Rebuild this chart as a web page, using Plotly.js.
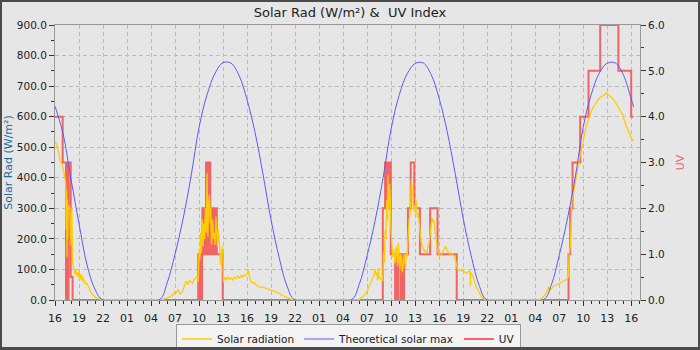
<!DOCTYPE html>
<html>
<head>
<meta charset="utf-8">
<script src="https://cdn.plot.ly/plotly-3.0.1.min.js"></script>
<style>
  html, body { margin: 0; padding: 0; width: 700px; height: 350px; overflow: hidden; background: #4b4b4b; }
  #chart { position: absolute; left: 2px; top: 2px; width: 696px; height: 370px; }
  #frame {
    position: absolute; left: 0; top: 0; width: 700px; height: 350px; box-sizing: border-box;
    border: 2px solid #4b4b4b; border-bottom-width: 3px; pointer-events: none; z-index: 10;
  }
</style>
</head>
<body>
<div id="chart"></div>
<div id="frame"></div>
<script>
// Hours are counted from the start of the window (16:00 on the first day).
const START = Date.UTC(2024, 5, 20, 16, 0, 0);

// Measured global solar radiation, W/m²
const radHours = [
  0.0, 0.1, 0.2, 0.35, 0.5, 0.65, 0.8, 0.95, 1.1, 1.25, 1.35, 1.4, 1.45, 1.5, 1.55, 1.6, 1.65, 1.75, 1.85, 1.9,
  1.95, 2.0, 2.1, 2.2, 2.3, 2.4, 2.5, 2.6, 2.7, 2.8, 2.9, 3.0, 3.1, 3.2, 3.3, 3.4, 3.5, 3.6, 3.7, 3.8,
  3.9, 4.0, 4.2, 4.4, 4.6, 4.8, 5.0, 5.3, 5.6, 6.0,
  13.4, 13.6, 14.0, 14.4, 14.7, 15.0, 15.2, 15.4, 15.6, 15.8, 16.0, 16.25, 16.4, 16.6, 16.8, 17.0, 17.2, 17.4, 17.6, 17.8,
  17.9, 18.0, 18.1, 18.2, 18.3, 18.4, 18.5, 18.6, 18.7, 18.8, 18.9, 19.0, 19.1, 19.2, 19.3, 19.4, 19.45, 19.55, 19.6, 19.7,
  19.8, 19.9, 20.0, 20.1, 20.2, 20.3, 20.4, 20.5, 20.6, 20.7, 20.8, 20.9, 21.0, 21.05, 21.2, 21.4, 21.6, 21.8, 22.0, 22.2,
  22.4, 22.6, 22.8, 23.0, 23.2, 23.4, 23.6, 23.8, 24.0, 24.15, 24.3, 24.5, 24.7, 24.9, 25.1, 25.4, 25.7, 26.0, 26.3, 26.7,
  27.0, 27.4, 27.8, 28.2, 28.6, 29.0, 29.4, 29.8,
  37.9, 38.2, 38.5, 38.9, 39.1, 39.4, 39.6, 39.8, 40.0, 40.1, 40.2, 40.3, 40.4, 40.5, 40.6, 40.8, 40.95, 41.05, 41.15, 41.25,
  41.35, 41.46, 41.55, 41.6, 41.7, 41.8, 41.875, 41.96, 42.05, 42.1, 42.2, 42.3, 42.4, 42.5, 42.6, 42.7, 42.8, 42.9, 43.0, 43.1,
  43.2, 43.3, 43.4, 43.5, 43.6, 43.7, 43.8, 43.9, 44.0, 44.1, 44.25, 44.4, 44.48, 44.54, 44.6, 44.67, 44.75, 44.8, 44.9, 45.0,
  45.1, 45.2, 45.3, 45.4, 45.5, 45.6, 45.7, 45.8, 45.9, 46.0, 46.1, 46.2, 46.3, 46.4, 46.5, 46.6, 46.7, 46.8, 46.9, 47.0,
  47.1, 47.25, 47.35, 47.45, 47.55, 47.65, 47.75, 47.85, 48.0, 48.1, 48.3, 48.5, 48.65, 48.8, 48.95, 49.1, 49.3, 49.5, 49.7, 49.9,
  50.05, 50.2, 50.3, 50.6, 50.9, 51.2, 51.5, 51.7, 51.85, 51.9, 51.95, 52.2, 52.4, 52.6, 52.8, 53.0, 53.2, 53.4, 53.8,
  60.4, 60.8, 61.25, 61.5, 61.7, 61.8, 61.9, 62.1, 62.3, 62.7, 63.1, 63.5, 63.96, 64.15, 64.25, 64.4, 64.5, 64.6, 64.8, 65.0,
  65.2, 65.4, 65.6, 65.8, 66.0, 66.2, 66.4, 66.6, 66.8, 67.0, 67.25, 67.5, 67.7, 67.9, 68.1, 68.5, 68.9, 69.2, 69.6, 70.0,
  70.4, 70.9, 71.3, 71.7, 72.1, 72.3
];
const radValues = [
  512, 516, 508, 495, 480, 455, 445, 438, 420, 400, 380, 230, 360, 140, 330, 200, 310, 300, 305, 200,
  290, 180, 300, 120, 110, 95, 85, 100, 80, 90, 75, 95, 70, 85, 65, 80, 60, 70, 55, 60,
  50, 55, 40, 30, 22, 15, 10, 5, 2, 0,
  0, 3, 6, 10, 15, 28, 25, 35, 20, 22, 30, 55, 62, 50, 65, 60, 55, 68, 72, 80,
  60, 165, 130, 220, 160, 263, 175, 250, 200, 300, 220, 416, 207, 320, 345, 250, 303, 180, 197, 263,
  200, 220, 180, 273, 200, 175, 230, 207, 150, 115, 160, 175, 130, 60, 75, 65, 75, 68, 72, 65,
  75, 70, 78, 72, 80, 75, 82, 78, 85, 100, 75, 60, 55, 58, 50, 45, 40, 42, 38, 35,
  32, 28, 25, 18, 12, 8, 4, 0,
  0, 5, 12, 23, 35, 55, 65, 78, 100, 80, 90, 65, 105, 70, 72, 65, 62, 155, 120, 230,
  200, 328, 260, 410, 295, 380, 350, 242, 200, 176, 140, 165, 130, 120, 175, 155, 110, 187, 130, 100,
  150, 143, 90, 110, 150, 132, 105, 155, 140, 198, 262, 285, 330, 394, 350, 372, 320, 296, 310, 285,
  330, 307, 270, 285, 250, 220, 200, 187, 175, 170, 160, 165, 150, 160, 155, 176, 180, 198, 230, 242,
  270, 253, 262, 230, 215, 198, 170, 155, 150, 143, 150, 160, 170, 176, 165, 160, 150, 155, 150, 143,
  130, 110, 100, 98, 95, 90, 88, 95, 93, 45, 90, 78, 60, 45, 35, 23, 14, 7, 0,
  0, 5, 17, 28, 45, 30, 33, 38, 45, 50, 55, 60, 68, 77, 153, 175, 240, 328, 350, 385,
  416, 445, 470, 492, 514, 545, 570, 588, 602, 617, 630, 642, 651, 657, 662, 670, 677, 670, 662, 648,
  630, 608, 575, 552, 525, 520
];

// Theoretical clear-sky maximum, W/m² (hourly readings)
const theoHours = [
  0, 1, 2, 3, 4, 5, 6,
  13, 14, 15, 16, 17, 18, 19, 20, 21, 22, 23, 24, 25, 26, 27, 28, 29, 30,
  37, 38, 39, 40, 41, 42, 43, 44, 45, 46, 47, 48, 49, 50, 51, 52, 53, 54,
  61, 62, 63, 64, 65, 66, 67, 68, 69, 70, 71, 72, 72.3
];
const theoValues = [
  634, 545, 395, 250, 115, 35, 0,
  0, 55, 150, 265, 405, 565, 672, 742, 777, 775, 735, 655, 548, 410, 262, 140, 45, 0,
  0, 50, 145, 260, 400, 560, 670, 740, 774, 776, 738, 660, 552, 415, 268, 145, 48, 0,
  0, 48, 145, 262, 400, 565, 672, 742, 775, 776, 738, 658, 632
];

// UV index (stepped readings)
const uvHours = [
  0, 0.96, 1.375, 1.43, 1.5, 1.56, 1.63, 1.69, 1.96, 2.2,
  17.9, 17.96, 18.02, 18.08, 18.14, 18.2, 18.26, 18.32, 18.38,
  18.42, 18.48, 18.54, 18.6, 18.66, 18.72, 18.78, 18.84,
  18.875, 18.93, 18.99, 19.05, 19.11, 19.17, 19.23, 19.29, 19.35,
  19.4, 19.46, 19.52, 19.58, 19.64, 19.7, 19.76,
  19.8, 19.86, 19.92, 19.98, 20.04, 20.1, 20.16, 20.22, 20.29, 20.96,
  40.96, 41.25, 41.33, 41.4, 41.47, 41.54, 41.61, 41.68, 41.75, 41.82, 41.89, 41.93, 41.96,
  42.5, 42.56, 42.62, 42.68, 42.74, 42.8, 42.86, 42.9,
  43.2, 43.26, 43.32, 43.38, 43.44, 43.5, 43.56, 43.62,
  44.1, 44.45, 44.9, 45.6, 46.875, 47.8, 50.2,
  64.17, 64.375, 64.67, 65.625, 66.67, 68.125, 70.4, 72.0, 72.3
];
const uvValues = [
  4, 3, 0, 3, 0, 3, 0, 3, 0.5, 0,
  1, 0, 1, 0, 1, 0, 1, 0, 1,
  2, 1, 2, 1, 2, 1, 2, 1,
  3, 1, 3, 2, 3, 1, 3, 2, 3,
  2, 1, 2, 1, 2, 1, 2,
  2, 1, 2, 1, 2, 1, 2, 1, 1, 0,
  2, 3, 2, 3, 2, 3, 2, 3, 2, 3, 2, 3, 1,
  0, 1, 0, 1, 0, 1, 0, 1,
  0, 1, 0, 1, 0, 1, 0, 1,
  2, 3, 2, 1, 2, 1, 0,
  1, 2, 3, 4, 5, 6, 5, 4, 4
];

function stamp(h) {
  const d = new Date(START + Math.round(h * 3600000));
  return d.toISOString().slice(0, 19).replace('T', ' ');
}

const FONT = 'DejaVu Sans, Verdana, sans-serif';

const traces = [
  {
    name: 'Solar radiation', type: 'scatter', mode: 'lines',
    x: radHours.map(stamp), y: radValues, yaxis: 'y2',
    line: { color: '#ffcc00', width: 1.3 }
  },
  {
    name: 'Theoretical solar max', type: 'scatter', mode: 'lines',
    x: theoHours.map(stamp), y: theoValues, yaxis: 'y2',
    line: { color: '#5a5aff', width: 1, shape: 'spline', smoothing: 1 }
  },
  {
    name: 'UV', type: 'scatter', mode: 'lines',
    x: uvHours.map(stamp), y: uvValues, yaxis: 'y',
    line: { color: '#f06464', width: 2, shape: 'hv' }
  }
];

const tickCommon = {
  ticks: 'outside', ticklen: 5, tickcolor: '#333', tickwidth: 1,
  showline: true, linecolor: '#999', linewidth: 1, zeroline: false
};

const layout = {
  width: 696, height: 370,
  paper_bgcolor: '#e6e6e6', plot_bgcolor: '#e6e6e6',
  margin: { l: 53, r: 58, t: 23, b: 72, pad: 0, autoexpand: false },
  font: { family: FONT, size: 11, color: '#222' },
  title: {
    text: 'Solar Rad (W/m²) &\u00a0 UV Index',
    x: 0.5, xref: 'container', xanchor: 'center',
    y: 1 - 10 / 370, yref: 'container', yanchor: 'middle',
    font: { family: FONT, size: 13, color: '#222' }
  },
  showlegend: true,
  legend: {
    orientation: 'h', x: 0.207, xanchor: 'left', y: -0.0855, yanchor: 'top',
    bgcolor: '#f3f3f3', bordercolor: '#999', borderwidth: 1,
    font: { family: FONT, size: 10.5, color: '#222' }
  },
  xaxis: Object.assign({}, tickCommon, {
    type: 'date', range: [stamp(0), stamp(73.1)],
    tick0: stamp(0), dtick: 10800000, tickformat: '%H',
    mirror: true, ticklabelstandoff: 3,
    showgrid: true, gridcolor: '#bbbbbb', griddash: '4px,3px', gridwidth: 1,
    tickfont: { family: FONT, size: 11, color: '#222' },
    minor: { tick0: stamp(0), dtick: 3600000, ticks: 'outside', ticklen: 3, tickcolor: '#333', showgrid: false }
  }),
  yaxis: Object.assign({}, tickCommon, {
    range: [0, 6], side: 'right', anchor: 'x',
    tick0: 0, dtick: 1, tickformat: '.1f', showgrid: false,
    tickfont: { family: FONT, size: 10.5, color: '#222' },
    minor: { tick0: 0, dtick: 0.5, ticks: 'outside', ticklen: 3, tickcolor: '#333', showgrid: false },
    title: { text: 'UV', standoff: 12, font: { family: FONT, size: 11, color: '#ef6262' } }
  }),
  yaxis2: Object.assign({}, tickCommon, {
    range: [0, 900], side: 'left', overlaying: 'y', anchor: 'x',
    tick0: 0, dtick: 100, tickformat: '.1f',
    showgrid: true, gridcolor: '#bbbbbb', griddash: '4px,3px', gridwidth: 1,
    tickfont: { family: FONT, size: 10.5, color: '#222' },
    minor: { tick0: 0, dtick: 50, ticks: 'outside', ticklen: 3, tickcolor: '#333', showgrid: false },
    title: { text: 'Solar Rad (W/m²)', standoff: 2, font: { family: FONT, size: 11, color: '#1b6e9a' } }
  })
};

Plotly.newPlot('chart', traces, layout, { staticPlot: true, displayModeBar: false });
</script>
</body>
</html>
